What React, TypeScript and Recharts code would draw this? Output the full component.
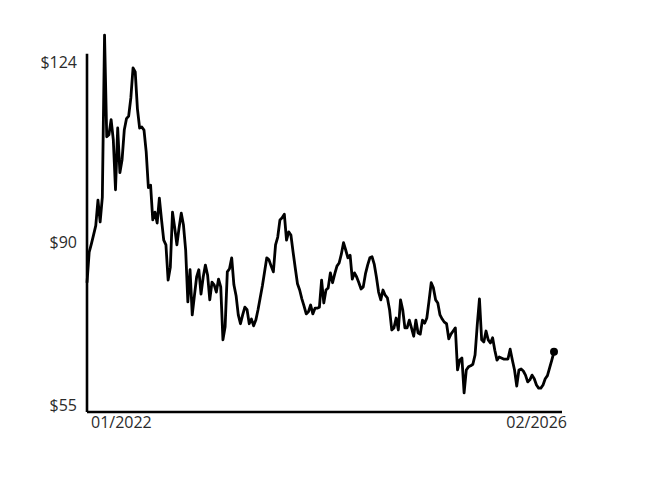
import { LineChart, Line, XAxis, YAxis, ReferenceLine } from "recharts";

// weekly closing price, first week of 01/2022 through first week of 02/2026
const PRICES: number[] = [
  79.9, 85.8, 87.4, 89.1, 90.9, 95.8, 91.6, 96.4, 127.6, 108.0,
  108.4, 111.3, 107.4, 97.8, 109.7, 101.1, 103.6, 109.3, 111.5, 112.0,
  115.5, 121.3, 120.5, 113.4, 109.7, 109.9, 109.3, 105.1, 98.2, 98.7,
  92.0, 93.5, 91.4, 96.2, 92.0, 88.1, 87.2, 80.4, 82.9, 93.5,
  90.5, 87.2, 90.5, 93.3, 91.0, 86.2, 76.2, 82.4, 73.7, 77.4,
  81.0, 82.4, 77.7, 81.0, 83.3, 81.4, 76.6, 80.0, 79.5, 78.1,
  80.6, 79.1, 68.9, 71.4, 82.0, 82.6, 84.7, 79.5, 77.4, 73.7,
  72.0, 73.7, 75.2, 74.7, 72.0, 72.9, 71.6, 72.7, 74.7, 77.0,
  79.3, 82.0, 84.7, 84.3, 83.1, 82.0, 87.2, 88.7, 92.0, 92.4,
  93.1, 88.1, 89.7, 89.1, 85.8, 82.7, 79.7, 78.5, 76.8, 75.4,
  73.9, 74.3, 75.6, 73.9, 75.0, 75.0, 75.2, 80.4, 76.0, 78.5,
  78.9, 81.8, 79.9, 81.6, 83.1, 83.7, 85.4, 87.6, 86.2, 84.7,
  85.2, 80.6, 81.8, 81.0, 79.9, 78.7, 79.1, 81.6, 83.3, 84.7,
  84.9, 83.5, 81.0, 78.1, 76.6, 78.5, 77.5, 77.0, 74.7, 70.8,
  71.2, 73.1, 70.8, 76.6, 74.7, 71.2, 71.2, 72.7, 71.2, 69.6,
  72.7, 70.2, 70.0, 72.7, 72.1, 73.1, 76.4, 79.9, 78.9, 76.6,
  76.0, 73.7, 72.9, 72.3, 72.0, 69.1, 70.0, 70.6, 71.2, 63.1,
  65.0, 65.4, 58.7, 63.1, 63.7, 63.9, 64.2, 66.0, 71.8, 76.8,
  68.9, 68.5, 70.6, 68.9, 68.3, 69.3, 66.9, 65.0, 65.6, 65.4,
  65.2, 65.2, 65.2, 67.1, 65.0, 63.1, 60.0, 63.1, 63.3, 62.9,
  62.1, 60.8, 61.2, 62.1, 61.4, 60.2, 59.6, 59.6, 60.2, 61.4,
  62.0, 63.5, 65.0, 66.6,
];

const X_TICK_LABELS = ["01/2022", "02/2026"];
const Y_TICKS = [55, 90, 124];

const LAST = PRICES.length - 1;
const data = PRICES.map((price, week) => ({ week, price }));

const FONT = "'Open Sans', sans-serif";
const TEXT_COLOR = "#2b2b2b";

function YTick({ x, y, payload, index }: any) {
  // labels sit just inside the axis ends
  const nudge = [-7, 12, 9][index] ?? 0;
  return (
    <text x={x - 2} y={y + nudge} dy="0.355em" textAnchor="end" fill={TEXT_COLOR} fontSize={16} fontFamily={FONT}>
      ${payload.value}
    </text>
  );
}

function XTick({ x, y, index }: any) {
  const first = index === 0;
  return (
    <text
      x={first ? x + 4 : x + 13}
      y={y + 2}
      dy="0.355em"
      textAnchor={first ? "start" : "end"}
      fill={TEXT_COLOR}
      fontSize={16}
      fontFamily={FONT}
    >
      {X_TICK_LABELS[first ? 0 : 1]}
    </text>
  );
}

function EndDot(props: any) {
  const { cx, cy, index } = props;
  if (index !== LAST) return <g key={`d-${index}`} />;
  return <circle key="end" cx={cx} cy={cy} r={4} fill="#000" />;
}

export default function App() {
  return (
    <div style={{ position: "absolute", left: 0, top: 0, background: "#fff" }}>
      <LineChart width={650} height={484} data={data} margin={{ top: 33, right: 88, left: 0, bottom: 42 }}>
        <XAxis
          dataKey="week"
          type="number"
          domain={[0, LAST]}
          ticks={[0, LAST]}
          padding={{ left: 0, right: 8 }}
          height={30}
          axisLine={{ stroke: "#000", strokeWidth: 2.6 }}
          tickLine={false}
          tick={<XTick />}
        />
        <YAxis
          type="number"
          domain={[55, 128]}
          ticks={Y_TICKS}
          width={87}
          axisLine={false}
          tickLine={false}
          tick={<YTick />}
        />
        <ReferenceLine
          segment={[{ x: 0, y: 55 }, { x: 0, y: 124 }]}
          stroke="#000"
          strokeWidth={2.6}
        />
        <Line
          type="linear"
          dataKey="price"
          stroke="#000"
          strokeWidth={2.8}
          strokeLinejoin="round"
          dot={EndDot}
          activeDot={false}
          isAnimationActive={false}
        />
      </LineChart>
    </div>
  );
}
